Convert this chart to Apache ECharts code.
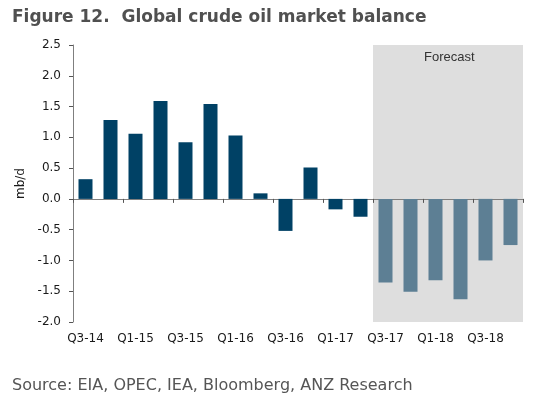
<!DOCTYPE html>
<html>
<head>
<meta charset="utf-8">
<script src="https://cdn.jsdelivr.net/npm/echarts@6/dist/echarts.min.js"></script>
<style>
  html, body { margin: 0; padding: 0; background: #fff; }
  #chart { width: 535px; height: 396px; }
</style>
</head>
<body>
<div id="chart"></div>
<script>
// quarters on the x axis
const quarters = ['Q3-14', 'Q4-14', 'Q1-15', 'Q2-15', 'Q3-15', 'Q4-15', 'Q1-16', 'Q2-16', 'Q3-16',
  'Q4-16', 'Q1-17', 'Q2-17', 'Q3-17', 'Q4-17', 'Q1-18', 'Q2-18', 'Q3-18', 'Q4-18'];
// market balance, mb/d (actual then forecast)
const balance = [0.32, 1.28, 1.06, 1.59, 0.92, 1.54, 1.03, 0.09, -0.52,
  0.51, -0.17, -0.29, -1.36, -1.51, -1.32, -1.63, -1.00, -0.75];
const forecastFrom = 'Q3-17';
const yTicks = { min: -2.0, max: 2.5, step: 0.5 };

const firstForecast = quarters.indexOf(forecastFrom);
const actualColor = '#004165';
const forecastColor = '#5d7f94';

const chart = echarts.init(document.getElementById('chart'));

// shaded forecast band: stacked up to max and down to min
const bandUp = quarters.map((q, i) => i >= firstForecast ? yTicks.max : null);
const bandDown = quarters.map((q, i) => i >= firstForecast ? yTicks.min : null);

const option = {
  animation: false,
  title: [
    {
      text: 'Figure 12.  Global crude oil market balance',
      left: 7, top: 4,
      textStyle: { fontFamily: 'DejaVu Sans', fontWeight: 'bold', fontSize: 17, color: '#505050' }
    },
    {
      text: 'Source: EIA, OPEC, IEA, Bloomberg, ANZ Research',
      left: 7, top: 373,
      textStyle: { fontFamily: 'DejaVu Sans', fontWeight: 'normal', fontSize: 16, color: '#555555' }
    }
  ],
  graphic: [{
    type: 'text', left: 424, top: 51,
    style: { text: 'Forecast', font: '13px "Liberation Sans"', fill: '#333' }
  }],
  grid: { left: 73, right: 12, top: 45, bottom: 74 },
  xAxis: [
    {
      type: 'category',
      data: quarters,
      axisLine: { onZero: true, lineStyle: { color: '#7f7f7f', width: 1 } },
      axisTick: { show: true, length: 4, lineStyle: { color: '#555' } },
      axisLabel: { show: false }
    },
    {
      type: 'category',
      data: quarters,
      position: 'bottom',
      axisLine: { show: false, onZero: false },
      axisTick: { show: false },
      axisLabel: { interval: 1, fontFamily: 'DejaVu Sans', fontSize: 12, color: '#1a1a1a', margin: 11 }
    }
  ],
  yAxis: {
    type: 'value',
    min: yTicks.min, max: yTicks.max, interval: yTicks.step,
    name: 'mb/d',
    nameLocation: 'middle',
    nameRotate: 90,
    nameGap: 45,
    nameTextStyle: { fontFamily: 'DejaVu Sans', fontSize: 12, color: '#1a1a1a' },
    axisLine: { show: true, lineStyle: { color: '#7f7f7f' } },
    axisTick: { show: true, length: 4, lineStyle: { color: '#555' } },
    splitLine: { show: false },
    axisLabel: {
      fontFamily: 'DejaVu Sans', fontSize: 12, color: '#1a1a1a', margin: 12,
      formatter: v => v.toFixed(1)
    }
  },
  series: [
    {
      type: 'bar', xAxisIndex: 1, stack: 'band', barWidth: '100%', z: -1,
      data: bandUp, itemStyle: { color: '#dedede' }, silent: true
    },
    {
      type: 'bar', xAxisIndex: 1, stack: 'band', barWidth: '100%', z: -1,
      data: bandDown, itemStyle: { color: '#dedede' }, silent: true
    },
    {
      type: 'bar',
      xAxisIndex: 0,
      barWidth: 14,
      data: balance.map((v, i) => ({
        value: v,
        itemStyle: { color: i >= firstForecast ? forecastColor : actualColor }
      }))
    }
  ]
};

chart.setOption(option);
window.addEventListener('resize', () => chart.resize(), false);
</script>
</body>
</html>
